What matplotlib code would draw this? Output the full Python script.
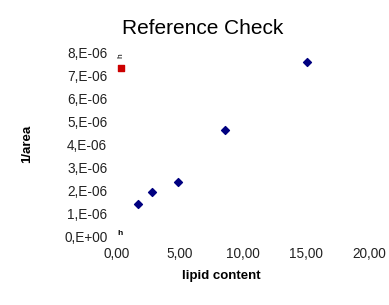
import matplotlib
matplotlib.use("Agg")
import matplotlib.pyplot as plt

plt.rcParams['font.family'] = ['Liberation Sans', 'DejaVu Sans']

lipid = [1.64, 2.78, 4.87, 8.55, 15.1]
inv_area = [1.43e-6, 1.93e-6, 2.39e-6, 4.63e-6, 7.58e-6]
ref_x = [0.32]
ref_y = [7.3e-6]
yticks = [0, 1e-6, 2e-6, 3e-6, 4e-6, 5e-6, 6e-6, 7e-6, 8e-6]
ytick_labels = ["0,E+00", "1,E-06", "2,E-06", "3,E-06", "4,E-06", "5,E-06", "6,E-06", "7,E-06", "8,E-06"]
xticks = [0, 5, 10, 15, 20]
xtick_labels = ["0,00", "5,00", "10,00", "15,00", "20,00"]

fig = plt.figure(figsize=(3.89, 3.05), dpi=100)
ax = fig.add_axes([0.3008, 0.2230, 0.6478, 0.6065])
ax.scatter(lipid, inv_area, marker='D', s=16, color='#000080', zorder=3)
ax.scatter(ref_x, ref_y, marker='s', s=16, color='#cc0000', zorder=3)
ax.set_xlim(0, 20)
ax.set_ylim(0, 8e-6)
ax.set_xticks(xticks)
ax.set_xticklabels(xtick_labels)
ax.set_yticks(yticks)
ax.set_yticklabels(ytick_labels)
ax.tick_params(length=0, labelsize=9.8, pad=7, colors='#222222')
for s in ax.spines.values():
    s.set_visible(False)
ax.set_xlabel("lipid content", fontsize=9.5, fontweight='bold')
ax.xaxis.set_label_coords(0.413, -0.178)
ax.set_ylabel("1/area", fontsize=9.5, fontweight='bold')
ax.yaxis.set_label_coords(-0.333, 0.503)
fig.text(0.522, 1 - 29 / 305, "Reference Check", fontsize=15, ha='center', va='center')
ax.text(0.05, 0.02e-6, "h", fontsize=6, fontweight='bold', ha='left', va='bottom', clip_on=False)
ax.text(0.0, 7.85e-6, "h", fontsize=6, rotation=90, ha='left', va='center', clip_on=False)
fig.savefig("out.png", dpi=100)
